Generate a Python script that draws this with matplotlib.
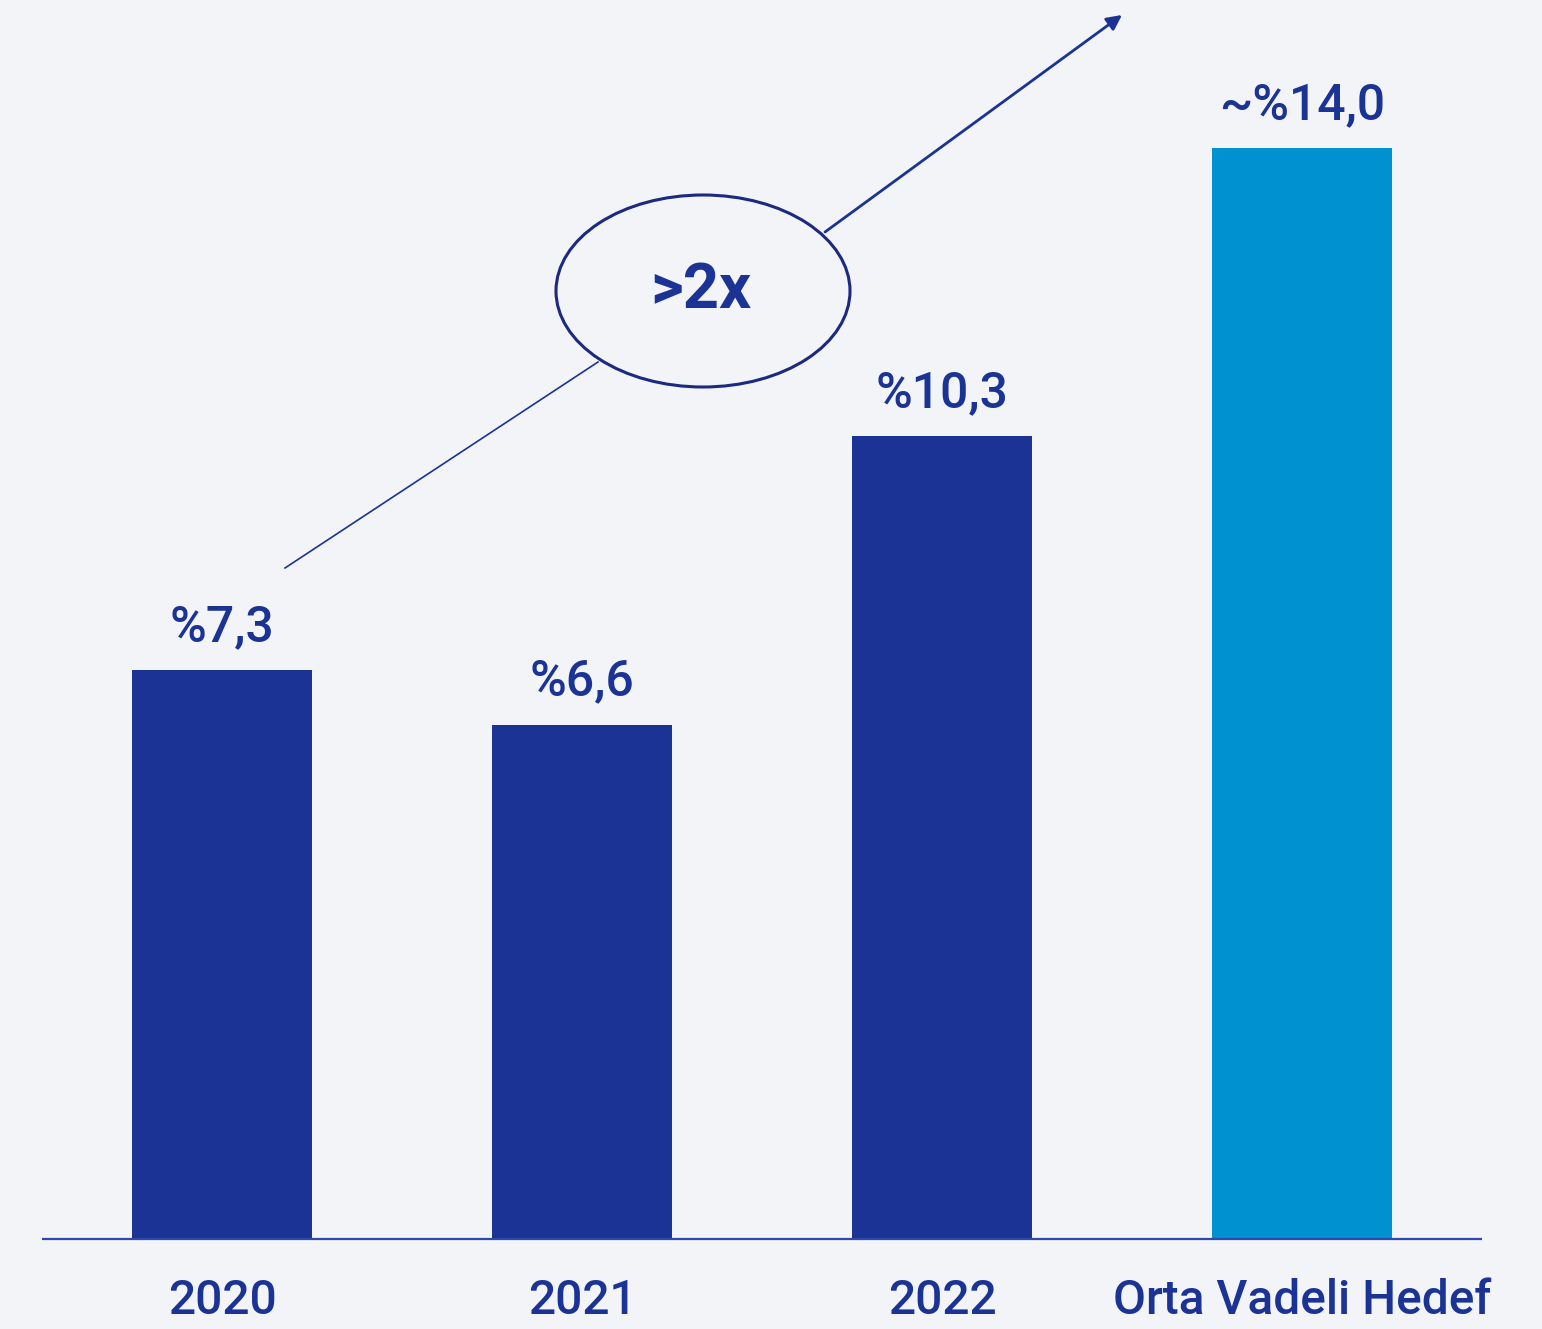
import matplotlib
matplotlib.use("Agg")
import matplotlib.pyplot as plt
from matplotlib.patches import Ellipse

categories = ["2020", "2021", "2022", "Orta Vadeli Hedef"]
values = [7.3, 6.6, 10.3, 14.0]
value_labels = ["%7,3", "%6,6", "%10,3", "~%14,0"]
bar_colors = ["#1A3394", "#1A3394", "#1A3394", "#0091D0"]

BG = "#F2F4F7"
TEXT = "#1A3394"

W, H = 1542, 1329
fig = plt.figure(figsize=(W / 100, H / 100), dpi=100, facecolor=BG)
ax = fig.add_axes([0, 0, 1, 1], facecolor=BG)

# mapping: centers at 222+360*i px; baseline 90 px from bottom; 77.93 px per unit
ax.set_xlim(-222 / 360, (W - 222) / 360)
scale = 1091 / 14.0
ax.set_ylim(-90 / scale, (H - 90) / scale)
ax.axis("off")

font = ["Roboto", "DejaVu Sans"]
x = list(range(len(categories)))
ax.bar(x, values, width=0.5, color=bar_colors, zorder=2)
ax.plot([-0.5, 3.5], [0, 0], color="#2E48B0", lw=1.6, zorder=3, solid_capstyle="butt")

for xi, v, lab in zip(x, values, value_labels):
    ax.annotate(lab, (xi, v), xytext=(0, 19), textcoords="offset pixels",
                ha="center", va="bottom", fontsize=36, color=TEXT,
                family=font, fontweight="medium")

for xi, c in zip(x, categories):
    ax.annotate(c, (xi, 0), xytext=(0, -39), textcoords="offset pixels",
                ha="center", va="top", fontsize=34.5, color=TEXT,
                family=font, fontweight="medium")

# growth annotation
ex, ey = (703 - 222) / 360, (1329 - 291 - 90) / scale
ew, eh = 294 / 360, 192 / scale
ax.add_patch(Ellipse((ex, ey), ew, eh, fill=False, ec="#1B2A80", lw=2.2, zorder=4))
ax.text(ex - 2 / 360, ey, ">2x", ha="center", va="center", fontsize=45.5, color=TEXT,
        family=font, fontweight="bold", zorder=5)

def px(xp, yp):
    return ((xp - 222) / 360, (1329 - yp - 90) / scale)

ax.plot(*zip(px(285, 568), px(598, 362)), color="#1A3394", lw=1.2, zorder=3)
ax.annotate("", xy=px(1122, 15), xytext=px(825, 232),
            arrowprops=dict(arrowstyle="-|>,head_length=0.9,head_width=0.45",
                            color="#1A3394", lw=2.0, shrinkA=0, shrinkB=0))

fig.savefig("out.png", dpi=100, facecolor=BG)
